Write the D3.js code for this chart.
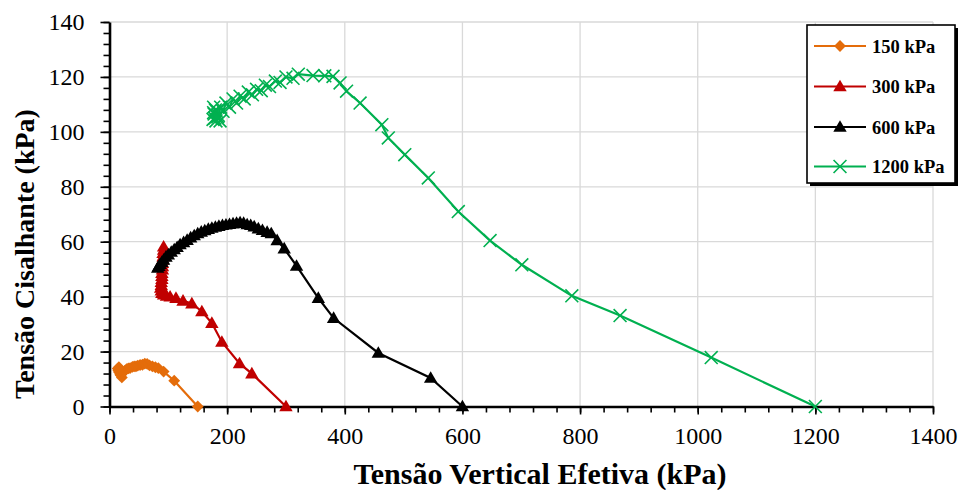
<!DOCTYPE html>
<html>
<head>
<meta charset="utf-8">
<script src="https://cdn.jsdelivr.net/npm/d3@7"></script>
<style>
  body { margin: 0; background: #fff; }
  svg text { font-family: "Times New Roman", "Liberation Serif", Tinos, "DejaVu Serif", serif !important; }
</style>
</head>
<body>
<div id="chart"></div>
<script>
// series: [tensao vertical efetiva, tensao cisalhante] in kPa
var s150 = [[150, 0], [110, 9.4], [92, 12.7], [83, 14], [78, 14.3], [73, 14.6], [68, 15], [64, 15.5],
  [60, 15.6], [56, 15.2], [52, 15.1], [48, 14.9], [45, 14.6], [42, 14.6], [39, 14.4], [35, 14],
  [32, 13.9], [29, 13.6], [26, 13], [23, 12.5], [21, 12], [19, 11.4], [21, 10.6], [18, 11.8],
  [16, 12.6], [15, 13.2], [14, 13.8], [16, 14.3]];

var s300 = [[300, 0], [242, 12], [221, 15.7], [191, 23.5], [174, 30.4], [157, 34.6], [140, 37.5],
  [125, 38.5], [113, 39.5], [103, 40], [97, 40.3], [92, 40.7], [89, 41.3], [88, 42.2], [87, 43.2],
  [88, 44.2], [88, 45.3], [89, 46.4], [89, 47.5], [89, 48.6], [90, 49.8], [90, 51], [90, 52.2],
  [90, 53.4], [91, 54.6], [91, 55.8], [92, 57], [92, 58.2]];

var s600 = [[600, 0], [546, 10.4], [457, 19.5], [381, 32.2], [355, 39.5], [318, 51.2], [297, 57.5],
  [285, 60.5], [275, 63], [268, 63.5], [260, 64.2], [253, 64.8], [246, 65.5], [240, 66], [234, 66.3],
  [228, 66.8], [222, 67], [216, 66.8], [210, 66.6], [204, 66.4], [198, 66.2], [192, 66], [186, 65.7],
  [180, 65.4], [174, 65], [168, 64.6], [162, 64.1], [156, 63.6], [150, 63], [144, 62.3], [138, 61.5],
  [132, 60.6], [126, 59.8], [120, 59], [115, 58], [110, 57.2], [105, 56.3], [100, 55.3], [96, 54.5],
  [92, 53.4], [89, 52.6], [86, 51.8], [84, 51.1], [82, 50.5]];

var s1200 = [[1200, 0], [1023, 17.8], [868, 33.1], [786, 40.3], [701, 51.6], [647, 60.4], [593, 71],
  [542, 83.2], [502, 91.7], [474, 97.8], [463, 102.6], [426, 110.5], [403, 114.8], [392, 117.8],
  [380, 120.2], [366, 120.4], [346, 120.5], [321, 121], [312, 119.5], [300, 120], [290, 118],
  [282, 118.5], [272, 116.5], [265, 117], [258, 115], [250, 115.5], [243, 113.5], [236, 114.5],
  [229, 112], [222, 113], [216, 110.5], [210, 112], [204, 109], [198, 110.5], [193, 107.5],
  [189, 109], [185, 106], [182, 107.5], [179, 105], [177, 107], [176, 104.5], [178, 106.5],
  [181, 104], [184, 105.5], [188, 104], [180, 108], [177, 109]];

var seriesNames = ['150 kPa', '300 kPa', '600 kPa', '1200 kPa'];
var seriesData = [s150, s300, s600, s1200];
var seriesColors = ['#E46C0A', '#C00000', '#000000', '#00B050'];
var seriesMarkers = ['diamond', 'triangle', 'triangle', 'times'];

var xTicks = [0, 200, 400, 600, 800, 1000, 1200, 1400];
var yTicks = [0, 20, 40, 60, 80, 100, 120, 140];

var svgWidth = 967;
var svgHeight = 490;
var serif = '"Times New Roman", "Liberation Serif", serif';

var x = d3.scaleLinear().domain([0, 1400]).range([109.5, 933]);
var y = d3.scaleLinear().domain([0, 140]).range([406.5, 22]);

var svg = d3.select('#chart')
  .append('svg')
  .attr('width', svgWidth)
  .attr('height', svgHeight)
  .style('font-family', serif);

// gridlines
svg.append('g')
  .selectAll('line')
  .data(yTicks.slice(1))
  .enter()
  .append('line')
  .attr('x1', x(0)).attr('x2', x(1400))
  .attr('y1', function(d) { return y(d); })
  .attr('y2', function(d) { return y(d); })
  .attr('stroke', '#d9d9d9')
  .attr('stroke-width', 1.3);

svg.append('g')
  .selectAll('line')
  .data(xTicks.slice(1))
  .enter()
  .append('line')
  .attr('y1', y(0)).attr('y2', y(140))
  .attr('x1', function(d) { return x(d); })
  .attr('x2', function(d) { return x(d); })
  .attr('stroke', '#d9d9d9')
  .attr('stroke-width', 1.3);

// minor ticks
var xMinor = d3.range(0, 1401, 40);
var yMinor = d3.range(0, 141, 4);

svg.append('g')
  .attr('transform', 'translate(0,' + y(0) + ')')
  .call(d3.axisBottom(x).tickValues(xMinor).tickSize(6).tickFormat(''))
  .call(function(g) { g.select('.domain').remove(); })
  .selectAll('line').attr('stroke-width', 1.6);

svg.append('g')
  .attr('transform', 'translate(' + x(0) + ',0)')
  .call(d3.axisLeft(y).tickValues(yMinor).tickSize(6).tickFormat(''))
  .call(function(g) { g.select('.domain').remove(); })
  .selectAll('line').attr('stroke-width', 1.6);

// major axes
var xAxis = svg.append('g')
  .attr('transform', 'translate(0,' + y(0) + ')')
  .call(d3.axisBottom(x).tickValues(xTicks).tickFormat(d3.format('d'))
    .tickSize(8).tickSizeOuter(0).tickPadding(12));
xAxis.attr('font-family', null);
xAxis.select('.domain').attr('stroke-width', 2.6);
xAxis.selectAll('line').attr('stroke-width', 1.6);
xAxis.selectAll('text')
  .style('font-family', serif)
  .attr('font-size', 24)
  .attr('fill', '#000');

var yAxis = svg.append('g')
  .attr('transform', 'translate(' + x(0) + ',0)')
  .call(d3.axisLeft(y).tickValues(yTicks).tickFormat(d3.format('d'))
    .tickSize(9).tickSizeOuter(0).tickPadding(16));
yAxis.attr('font-family', null);
yAxis.select('.domain').attr('stroke-width', 2.6);
yAxis.selectAll('line').attr('stroke-width', 1.6);
yAxis.selectAll('text')
  .style('font-family', serif)
  .attr('font-size', 24)
  .attr('fill', '#000');

// axis titles
svg.append('text')
  .attr('x', 540)
  .attr('y', 484)
  .attr('text-anchor', 'middle')
  .style('font-family', serif)
  .attr('font-size', 30)
  .attr('font-weight', 'bold')
  .text('Tensão Vertical Efetiva (kPa)');

svg.append('text')
  .attr('transform', 'translate(34,254) rotate(-90)')
  .attr('text-anchor', 'middle')
  .style('font-family', serif)
  .attr('font-size', 28)
  .attr('font-weight', 'bold')
  .text('Tensão Cisalhante (kPa)');

// marker shapes
function markerPath(kind) {
  if (kind === 'diamond') return d3.symbol(d3.symbolSquare, 70)();
  if (kind === 'triangle') return d3.symbol(d3.symbolTriangle, 78)();
  return d3.symbol(d3.symbolTimes, 110)();
}

function drawMarker(g, kind, color) {
  var p = g.append('path').attr('d', markerPath(kind));
  if (kind === 'times') {
    p.attr('fill', 'none').attr('stroke', color).attr('stroke-width', 1.6);
  } else {
    p.attr('fill', color);
  }
  if (kind === 'diamond') p.attr('transform', 'rotate(45)');
  if (kind === 'triangle') p.attr('transform', 'translate(0,1)');
}

var line = d3.line()
  .x(function(d) { return x(d[0]); })
  .y(function(d) { return y(d[1]); });

seriesData.forEach(function(data, i) {
  var g = svg.append('g');
  g.append('path')
    .datum(data)
    .attr('d', line)
    .attr('fill', 'none')
    .attr('stroke', seriesColors[i])
    .attr('stroke-width', 2.2);

  g.selectAll('g')
    .data(data)
    .enter()
    .append('g')
    .attr('transform', function(d) { return 'translate(' + x(d[0]) + ',' + y(d[1]) + ')'; })
    .each(function() { drawMarker(d3.select(this), seriesMarkers[i], seriesColors[i]); });
});

// legend
var legend = svg.append('g');
legend.append('rect')
  .attr('x', 810).attr('y', 28)
  .attr('width', 148).attr('height', 158)
  .attr('fill', '#000');
legend.append('rect')
  .attr('x', 807).attr('y', 25)
  .attr('width', 148).attr('height', 158)
  .attr('fill', '#fff')
  .attr('stroke', '#000')
  .attr('stroke-width', 1.6);

var legendY = [46, 86.5, 127, 166.5];
seriesNames.forEach(function(name, i) {
  var row = legend.append('g')
    .attr('transform', 'translate(0,' + legendY[i] + ')');
  row.append('line')
    .attr('x1', 814).attr('x2', 866)
    .attr('stroke', seriesColors[i])
    .attr('stroke-width', 2.2);
  var m = row.append('g').attr('transform', 'translate(840,0)');
  drawMarker(m, seriesMarkers[i], seriesColors[i]);
  row.append('text')
    .attr('x', 872)
    .attr('y', 6.5)
    .style('font-family', serif)
    .attr('font-size', 18.5)
    .attr('font-weight', 'bold')
    .text(name);
});
</script>
</body>
</html>
